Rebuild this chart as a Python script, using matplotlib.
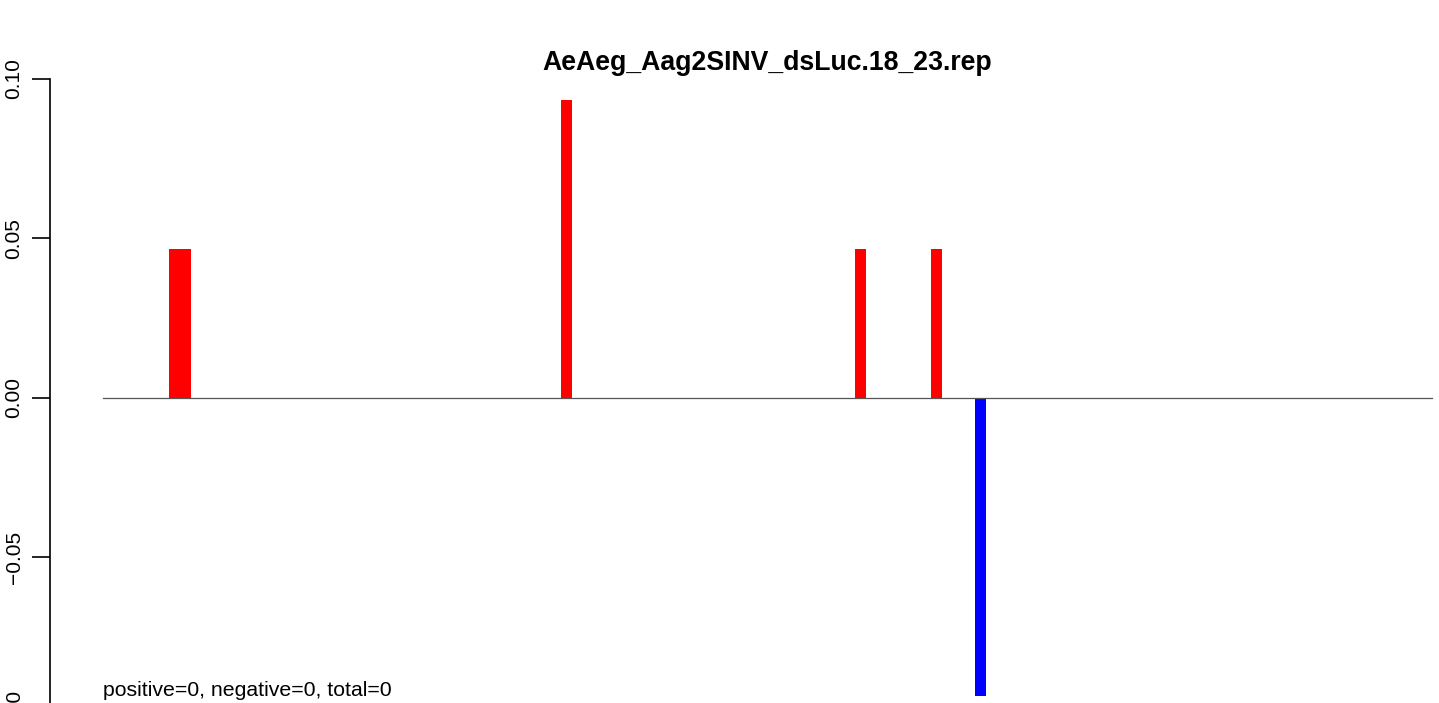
import matplotlib
matplotlib.use("Agg")
import matplotlib.pyplot as plt

# data (bins with non-zero values)
n_bins = 122
bin_index = [6, 7, 42, 69, 76, 80]
values = [0.0467, 0.0467, 0.0934, 0.0467, 0.0467, -0.0934]
y_ticks = [-0.10, -0.05, 0.00, 0.05, 0.10]
title = "AeAeg_Aag2SINV_dsLuc.18_23.rep"
note = "positive=0, negative=0, total=0"

plt.rcParams['font.family'] = ['Liberation Sans', 'DejaVu Sans']

W, H = 1439, 703
fig = plt.figure(figsize=(W / 100, H / 100), dpi=100)

# plot region extends past the right and bottom of the picture (cropped R barplot)
left_px, right_px, top_px, bottom_px = 50, 1485, 76, 721
ax = fig.add_axes([left_px / W, 1 - bottom_px / H,
                   (right_px - left_px) / W, (bottom_px - top_px) / H])

colors = ['red' if v > 0 else 'blue' for v in values]
ax.bar([i + 0.05 for i in bin_index], values, width=1.0, align='edge',
       color=colors, linewidth=0)

ymin, ymax = min(values), max(values)
pad = 0.04 * (ymax - ymin)
ax.set_ylim(ymin - pad - 0.0005, ymax + pad)
ax.set_xlim(-0.04 * n_bins, n_bins * 1.04)

ax.plot([0, n_bins], [0, 0], color='#555555', linewidth=0.9)

for s in ['top', 'right', 'bottom']:
    ax.spines[s].set_visible(False)
ax.spines['left'].set_bounds(-0.10, 0.10)
ax.spines['left'].set_linewidth(1.2)
ax.set_yticks(y_ticks)
ax.set_yticklabels([f"{t:.2f}".replace('-', '\u2212') for t in y_ticks],
                   rotation=90, va='center', fontsize=15)
ax.tick_params(axis='y', length=13, width=1.2, pad=6)
ax.set_xticks([])

ax.text(0, ymin, note, ha='left', va='baseline', fontsize=15.3)

fig.text((left_px + right_px) / 2 / W, 1 - 70 / H, title, ha='center',
         va='baseline', fontsize=19.2, fontweight='bold')

fig.savefig("out.png", dpi=100)
